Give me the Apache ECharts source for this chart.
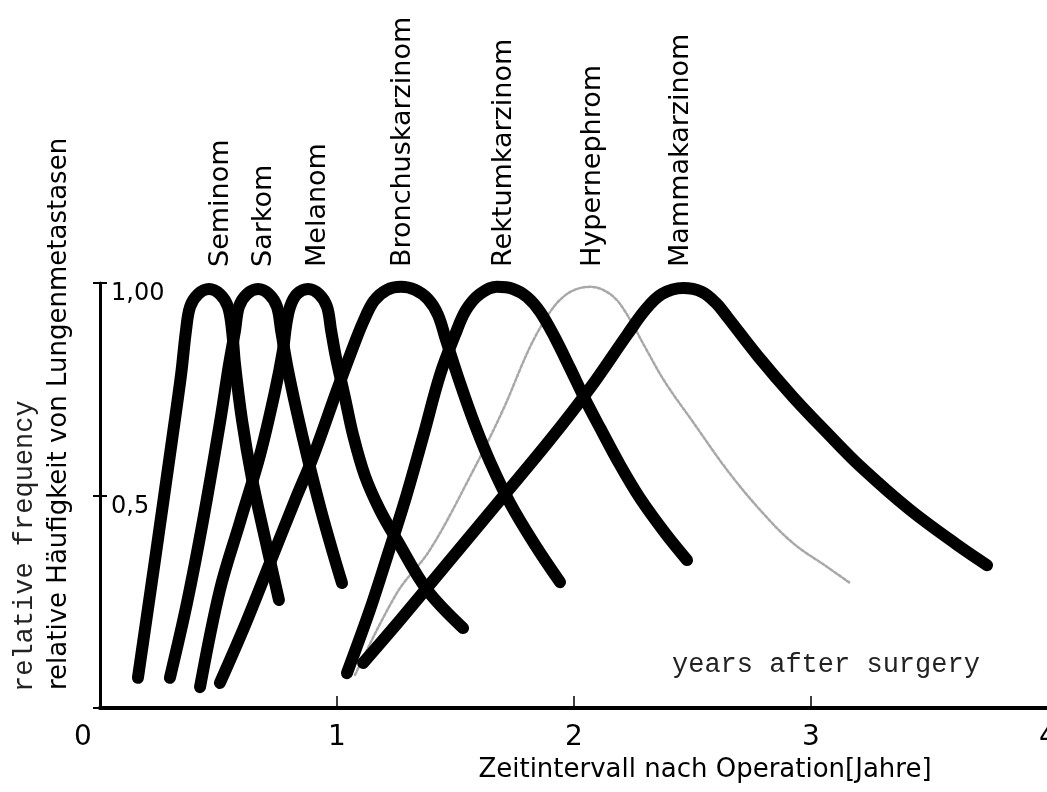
<!DOCTYPE html>
<html>
<head>
<meta charset="utf-8">
<script src="https://cdn.jsdelivr.net/npm/echarts@6/dist/echarts.min.js"></script>
<style>
html,body{margin:0;padding:0;background:#fff;}
#c{width:1047px;height:792px;}
</style>
</head>
<body>
<div id="c"></div>
<script>
// ---- data (years after surgery, relative frequency) ----
const seriesNames = ['Seminom','Sarkom','Melanom','Bronchuskarzinom','Rektumkarzinom','Hypernephrom','Mammakarzinom'];
const seminom = [[0.160,0.071],[0.232,0.348],[0.304,0.631],[0.342,0.784],[0.363,0.889],[0.380,0.944],[0.414,0.974],[0.460,0.986],[0.506,0.974],[0.540,0.944],[0.557,0.889],[0.570,0.807],[0.599,0.678],[0.641,0.541],[0.696,0.400],[0.755,0.254]];
const sarkom = [[0.295,0.071],[0.367,0.247],[0.435,0.442],[0.506,0.671],[0.544,0.807],[0.570,0.889],[0.586,0.944],[0.620,0.974],[0.667,0.986],[0.713,0.974],[0.747,0.944],[0.764,0.889],[0.789,0.807],[0.831,0.696],[0.878,0.584],[0.932,0.466],[0.983,0.365],[1.021,0.294]];
const melanom = [[0.422,0.049],[0.506,0.278],[0.591,0.438],[0.675,0.595],[0.738,0.744],[0.772,0.842],[0.785,0.899],[0.802,0.944],[0.831,0.974],[0.878,0.986],[0.924,0.974],[0.958,0.944],[0.975,0.889],[0.996,0.824],[1.034,0.729],[1.068,0.642],[1.118,0.546],[1.181,0.466],[1.253,0.395],[1.380,0.278],[1.532,0.188]];
const bronchus = [[0.506,0.059],[0.612,0.195],[0.717,0.341],[0.823,0.489],[0.899,0.591],[1.000,0.748],[1.063,0.842],[1.110,0.908],[1.156,0.958],[1.211,0.984],[1.270,0.991],[1.329,0.984],[1.384,0.962],[1.426,0.925],[1.460,0.866],[1.519,0.765],[1.582,0.666],[1.646,0.579],[1.730,0.482],[1.835,0.384],[1.941,0.296]];
const rektum = [[1.042,0.082],[1.139,0.231],[1.211,0.355],[1.287,0.489],[1.363,0.638],[1.435,0.784],[1.498,0.878],[1.544,0.936],[1.603,0.974],[1.675,0.991],[1.743,0.986],[1.802,0.967],[1.857,0.932],[1.920,0.871],[1.983,0.800],[2.046,0.727],[2.110,0.659],[2.194,0.572],[2.278,0.494],[2.384,0.412],[2.477,0.348]];
const hypernephrom = [[1.076,0.078],[1.253,0.271],[1.392,0.372],[1.561,0.544],[1.700,0.701],[1.814,0.849],[1.899,0.932],[1.958,0.969],[2.013,0.986],[2.068,0.991],[2.122,0.984],[2.177,0.962],[2.228,0.922],[2.300,0.849],[2.384,0.767],[2.502,0.673],[2.646,0.560],[2.785,0.466],[2.924,0.388],[3.068,0.332],[3.165,0.294]];
const mamma = [[1.110,0.106],[1.266,0.207],[1.477,0.348],[1.688,0.489],[1.899,0.631],[2.068,0.753],[2.224,0.878],[2.304,0.939],[2.371,0.974],[2.460,0.988],[2.540,0.979],[2.599,0.953],[2.650,0.918],[2.776,0.828],[2.924,0.732],[3.072,0.645],[3.207,0.569],[3.418,0.466],[3.629,0.379],[3.743,0.336]];
const xTickLabels = ['0','1','2','3','4'];
const yTickValues = [0.5, 1];
const yTickLabels = ['0,5','1,00'];

const curves = [seminom, sarkom, melanom, bronchus, rektum, hypernephrom, mamma];

const FONT = '"DejaVu Sans", sans-serif';
const MONO = '"Liberation Mono", "DejaVu Sans Mono", monospace';

const chart = echarts.init(document.getElementById('c'), null, {renderer:'canvas'});

const series = curves.map((d, i) => {
  const grey = seriesNames[i] === 'Hypernephrom';
  return {
    name: seriesNames[i],
    type: 'line',
    data: d,
    smooth: 0.35,
    symbol: 'none',
    clip: false,
    z: grey ? 1 : 3,
    lineStyle: grey
      ? {color: '#a8a8a8', width: 2.5, type: [3, 2], cap: 'round'}
      : {color: '#000', width: 12, cap: 'round', join: 'round'}
  };
});

// pixel anchors for the rotated curve names
const labelPos = [[221,267],[264,267],[318,267],[403,267],[504,267],[593,267],[681,267]];
const graphics = seriesNames.map((n, i) => ({
  type: 'text', x: labelPos[i][0], y: labelPos[i][1], rotation: Math.PI / 2,
  style: {text: n, align: 'left', verticalAlign: 'middle', font: '27px ' + FONT, fill: '#000'}
}));
graphics.push({
  type: 'text', x: 59, y: 690, rotation: Math.PI / 2,
  style: {text: 'relative Häufigkeit von Lungenmetastasen', align: 'left', verticalAlign: 'middle', font: '26px ' + FONT, fill: '#000'}
});
graphics.push({
  type: 'text', x: 25, y: 692, rotation: Math.PI / 2,
  style: {text: 'relative frequency', align: 'left', verticalAlign: 'middle', font: '27px ' + MONO, fill: '#222'}
});
graphics.push({
  type: 'text', x: 672, y: 665,
  style: {text: 'years after surgery', align: 'left', verticalAlign: 'middle', font: '27px ' + MONO, fill: '#222'}
});

const option = {
  animation: false,
  backgroundColor: '#fff',
  grid: {left: 100, top: 283, width: 948, height: 425, containLabel: false, outerBoundsMode: 'none'},
  xAxis: {
    type: 'value', min: 0, max: 4, interval: 1,
    name: 'Zeitintervall nach Operation[Jahre]',
    nameLocation: 'middle', nameGap: 46,
    nameTextStyle: {fontFamily: FONT, fontSize: 26, color: '#000', padding: [0, 0, 0, 262]},
    axisLine: {lineStyle: {color: '#000', width: 4}},
    axisTick: {inside: true, length: 12, lineStyle: {color: '#000', width: 1.5}},
    splitLine: {show: false},
    axisLabel: {
      margin: 16, color: '#000', fontFamily: FONT, fontSize: 28, lineHeight: 28,
      hideOverlap: false, showMaxLabel: true, showMinLabel: true,
      formatter: v => {
        const s = xTickLabels[Math.round(v)] || '';
        return v === 0 ? '{z|' + s + '}' : s;
      },
      rich: {z: {fontFamily: FONT, fontSize: 28, lineHeight: 28, color: '#000', padding: [0, 34, 0, 0]}}
    }
  },
  yAxis: [{
    type: 'value', min: 0, max: 1, interval: 0.5,
    axisLine: {show: true, lineStyle: {color: '#000', width: 3}},
    axisTick: {show: true, length: 7, lineStyle: {color: '#000', width: 2}},
    splitLine: {show: false},
    axisLabel: {
      inside: true, margin: 11, color: '#000', fontFamily: FONT, fontSize: 24, lineHeight: 22,
      verticalAlign: 'top',
      formatter: v => { const k = yTickValues.indexOf(v); return k >= 0 ? yTickLabels[k] : ''; }
    }
  }, {
    type: 'value', min: 0, max: 1, interval: 0.5, position: 'left', offset: 0,
    axisLine: {show: false},
    axisTick: {show: true, inside: true, length: 7, lineStyle: {color: '#000', width: 2}},
    splitLine: {show: false},
    axisLabel: {show: false}
  }],
  graphic: graphics,
  series: series
};
chart.setOption(option);
</script>
</body>
</html>
